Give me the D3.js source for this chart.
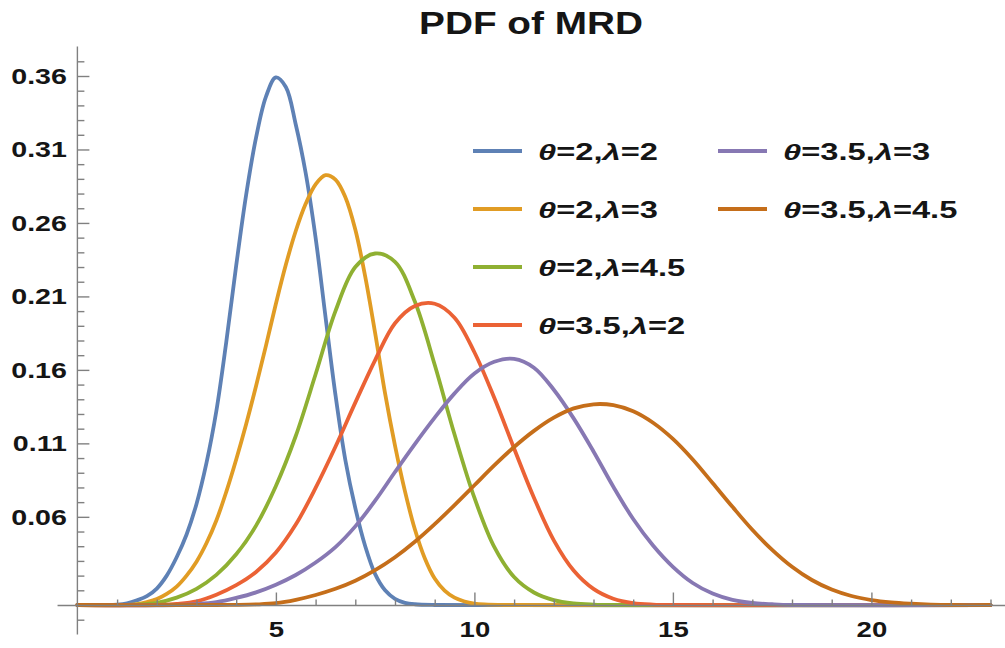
<!DOCTYPE html>
<html>
<head>
<meta charset="utf-8">
<script src="https://cdn.jsdelivr.net/npm/d3@7/dist/d3.min.js"></script>
<style>
  html, body { margin: 0; padding: 0; background: #fff; }
  svg { display: block; }
  text { font-family: "Liberation Sans", Arial, sans-serif; font-weight: bold; fill: #151515; }
</style>
</head>
<body>
<svg id="chart" width="1005" height="648"></svg>
<script>
// ---------------- data ----------------
const chartTitle = "PDF of MRD";
const seriesThetas = ["2", "2", "2", "3.5", "3.5", "3.5"];
const seriesLambdas = ["2", "3", "4.5", "2", "3", "4.5"];

// points: [x, pdf]
const s1 = [[0,0],[0.75,0],[1.0,0.0003],[1.25,0.0012],[1.5,0.0032],[1.75,0.0060],[2.0,0.0112],[2.25,0.0200],[2.5,0.0325],[2.75,0.0480],[3.0,0.0688],[3.25,0.0965],[3.5,0.1320],[3.75,0.1790],[4.0,0.2310],[4.25,0.2790],[4.5,0.3180],[4.75,0.3460],[5.0,0.3590],[5.25,0.3525],[5.5,0.3270],[5.75,0.2940],[6.0,0.2500],[6.25,0.1960],[6.5,0.1430],[6.75,0.0985],[7.0,0.0660],[7.25,0.0400],[7.5,0.0210],[7.75,0.0100],[8.0,0.0042],[8.25,0.0015],[8.5,0.0005],[9.0,0],[23,0]];
const s2 = [[0,0],[1.25,0],[1.5,0.0006],[1.75,0.0020],[2.0,0.0040],[2.25,0.0075],[2.5,0.0125],[2.75,0.0200],[3.0,0.0295],[3.25,0.0420],[3.5,0.0575],[3.75,0.0770],[4.0,0.0990],[4.25,0.1230],[4.5,0.1490],[4.75,0.1765],[5.0,0.2050],[5.25,0.2315],[5.5,0.2545],[5.75,0.2730],[6.0,0.2862],[6.25,0.2925],[6.5,0.2895],[6.75,0.2775],[7.0,0.2555],[7.25,0.2235],[7.5,0.1850],[7.75,0.1440],[8.0,0.1085],[8.25,0.0775],[8.5,0.0515],[8.75,0.0318],[9.0,0.0180],[9.25,0.0098],[9.5,0.0050],[9.75,0.0024],[10.0,0.0010],[10.25,0.0004],[10.75,0],[23,0]];
const s3 = [[0,0],[1.25,0],[1.5,0.0003],[2.0,0.0015],[2.5,0.0050],[3.0,0.0110],[3.5,0.0205],[4.0,0.0345],[4.5,0.0540],[5.0,0.0810],[5.5,0.1150],[6.0,0.1570],[6.5,0.2000],[7.0,0.2300],[7.5,0.2392],[8.0,0.2335],[8.5,0.2065],[9.0,0.1635],[9.5,0.1160],[10.0,0.0730],[10.5,0.0395],[11.0,0.0190],[11.5,0.0085],[12.0,0.0033],[12.5,0.0011],[13.0,0.0003],[13.5,0],[23,0]];
const s4 = [[0,0],[2.0,0],[2.5,0.0008],[3.0,0.0025],[3.5,0.0070],[4.0,0.0135],[4.5,0.0225],[5.0,0.0357],[5.5,0.0547],[6.0,0.0797],[6.5,0.1077],[7.0,0.1377],[7.5,0.1667],[8.0,0.1917],[8.5,0.2035],[9.0,0.2050],[9.5,0.1955],[10.0,0.1720],[10.5,0.1410],[11.0,0.1065],[11.5,0.0730],[12.0,0.0440],[12.5,0.0235],[13.0,0.0110],[13.5,0.0043],[14.0,0.0013],[14.5,0.0003],[15.0,0],[23,0]];
const s5 = [[0,0],[2.5,0],[3.0,0.0006],[3.5,0.0019],[4.0,0.0048],[4.5,0.0086],[5.0,0.0138],[5.5,0.0204],[6.0,0.0289],[6.5,0.0394],[7.0,0.0535],[7.5,0.0710],[8.0,0.0905],[8.5,0.1095],[9.0,0.1275],[9.5,0.1440],[10.0,0.1575],[10.5,0.1655],[11.0,0.1675],[11.5,0.1615],[12.0,0.1465],[12.5,0.1270],[13.0,0.1045],[13.5,0.0805],[14.0,0.0585],[14.5,0.0405],[15.0,0.0260],[15.5,0.0150],[16.0,0.0078],[16.5,0.0035],[17.0,0.0014],[17.5,0.0005],[18.0,0],[23,0]];
const s6 = [[0,0],[3.5,0],[4.0,0.0001],[4.5,0.0004],[5.0,0.0012],[5.5,0.0035],[6.0,0.0068],[6.5,0.0110],[7.0,0.0165],[7.5,0.0237],[8.0,0.0325],[8.5,0.0430],[9.0,0.0550],[9.5,0.0680],[10.0,0.0815],[10.5,0.0950],[11.0,0.1075],[11.5,0.1185],[12.0,0.1275],[12.5,0.1338],[13.0,0.1366],[13.5,0.1360],[14.0,0.1318],[14.5,0.1240],[15.0,0.1130],[15.5,0.0990],[16.0,0.0830],[16.5,0.0668],[17.0,0.0512],[17.5,0.0375],[18.0,0.0260],[18.5,0.0170],[19.0,0.0105],[19.5,0.0061],[20.0,0.0034],[20.5,0.0018],[21.0,0.0009],[21.5,0.0003],[22.0,0],[23,0]];
const seriesData = [s1, s2, s3, s4, s5, s6];

const xTickValues = [5, 10, 15, 20];
const xTickLabels = ["5", "10", "15", "20"];
const xMinorTicks = [1, 2, 3, 4, 6, 7, 8, 9, 11, 12, 13, 14, 16, 17, 18, 19, 21, 22, 23];
const yTickValues = [0.06, 0.11, 0.16, 0.21, 0.26, 0.31, 0.36];
const yTickLabels = ["0.06", "0.11", "0.16", "0.21", "0.26", "0.31", "0.36"];
const yMinorTicks = [-0.01, 0.01, 0.02, 0.03, 0.04, 0.05, 0.07, 0.08, 0.09, 0.10, 0.12, 0.13, 0.14, 0.15, 0.17, 0.18, 0.19, 0.20, 0.22, 0.23, 0.24, 0.25, 0.27, 0.28, 0.29, 0.30, 0.32, 0.33, 0.34, 0.35, 0.37];

// ---------------- style ----------------
const colors = ["#5E81B5", "#E19C24", "#8FB032", "#EB6235", "#8778B3", "#C56E1A"];
const axisColor = "#808080";
const sx = 1.25;       // horizontal stretch of glyphs in the reference
const legendSx = 1.42;

// ---------------- drawing ----------------
const svg = d3.select("#chart");
const x = d3.scaleLinear().domain([0, 23]).range([77.4, 990.5]);
const y = d3.scaleLinear().domain([0, 0.36]).range([605, 76]);

// curves
const line = d3.line().x(d => x(d[0])).y(d => y(d[1])).curve(d3.curveCatmullRom.alpha(0.5));
svg.append("g").selectAll("path").data(seriesData).join("path")
  .attr("d", line)
  .attr("fill", "none")
  .attr("stroke", (d, i) => colors[i])
  .attr("stroke-width", 3.8)
  .attr("stroke-linejoin", "round")
  .attr("stroke-linecap", "round");

// axis lines
const axes = svg.append("g");
axes.append("line")
  .attr("x1", x(0)).attr("x2", x(0))
  .attr("y1", y(-0.02)).attr("y2", y(0.38))
  .attr("stroke", axisColor).attr("stroke-width", 1.4);
axes.append("line")
  .attr("x1", x(-0.5)).attr("x2", x(23.4))
  .attr("y1", y(0) + 0.5).attr("y2", y(0) + 0.5)
  .attr("stroke", axisColor).attr("stroke-width", 1.4);

// y axis: major with labels, minor without
const yMajor = svg.append("g").attr("transform", `translate(${x(0)},0)`)
  .call(d3.axisLeft(y).tickValues(yTickValues).tickFormat((d, i) => yTickLabels[i])
    .tickSize(-12).tickSizeOuter(0).tickPadding(10));
const yMinor = svg.append("g").attr("transform", `translate(${x(0)},0)`)
  .call(d3.axisLeft(y).tickValues(yMinorTicks).tickFormat("").tickSize(-7).tickSizeOuter(0));
[yMajor, yMinor].forEach(g => {
  g.select(".domain").remove();
  g.selectAll(".tick line").attr("stroke", axisColor).attr("stroke-width", 1.4);
});
yMajor.selectAll(".tick text")
  .attr("x", null).attr("dy", null)
  .attr("font-size", 22)
  .attr("text-anchor", "end")
  .attr("transform", `translate(-10.5,7.5) scale(${sx * 1.04},1)`)
  .style("font-family", "'Liberation Sans', Arial, sans-serif").style("font-weight", "bold").attr("fill", "#151515");

// x axis
const xMajor = svg.append("g").attr("transform", `translate(0,${y(0) + 0.5})`)
  .call(d3.axisBottom(x).tickValues(xTickValues).tickFormat((d, i) => xTickLabels[i])
    .tickSize(-13).tickSizeOuter(0).tickPadding(8));
const xMinor = svg.append("g").attr("transform", `translate(0,${y(0) + 0.5})`)
  .call(d3.axisBottom(x).tickValues(xMinorTicks).tickFormat("").tickSize(-6).tickSizeOuter(0));
[xMajor, xMinor].forEach(g => {
  g.select(".domain").remove();
  g.selectAll(".tick line").attr("stroke", axisColor).attr("stroke-width", 1.4);
});
xMajor.selectAll(".tick text")
  .attr("y", null).attr("dy", null)
  .attr("font-size", 22)
  .attr("text-anchor", "middle")
  .attr("transform", `translate(0,31) scale(${sx},1)`)
  .style("font-family", "'Liberation Sans', Arial, sans-serif").style("font-weight", "bold").attr("fill", "#151515");

// title
svg.append("text")
  .attr("transform", `translate(531,34) scale(${sx},1)`)
  .attr("text-anchor", "middle")
  .attr("font-size", 31)
  .text(chartTitle);

// legend
const legendCols = [473, 718];
const legendRowY = 151, legendRowStep = 58;
const legend = svg.append("g");
seriesData.forEach((s, i) => {
  const col = i < 4 ? 0 : 1;
  const row = i < 4 ? i : i - 4;
  const lx = legendCols[col];
  const ly = legendRowY + row * legendRowStep;
  const g = legend.append("g");
  g.append("line")
    .attr("x1", lx).attr("x2", lx + 49)
    .attr("y1", ly).attr("y2", ly)
    .attr("stroke", colors[i]).attr("stroke-width", 3.8);
  const t = g.append("text")
    .attr("transform", `translate(${lx + 65},${ly + 8.5}) scale(${legendSx},1)`)
    .attr("font-size", 23);
  t.append("tspan").attr("font-style", "italic").text("θ");
  t.append("tspan").text("=" + seriesThetas[i] + ",");
  t.append("tspan").attr("font-style", "italic").text("λ");
  t.append("tspan").text("=" + seriesLambdas[i]);
});
</script>
</body>
</html>
